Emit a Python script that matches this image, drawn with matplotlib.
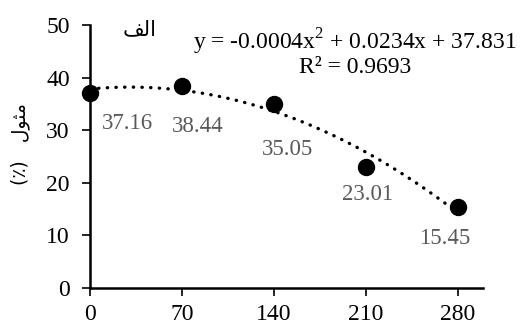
import numpy as np
import matplotlib
matplotlib.use("Agg")
from matplotlib import pyplot as plt

# data ------------------------------------------------
days = [0, 70, 140, 210, 280]
values = [37.16, 38.44, 35.05, 23.01, 15.45]
xticks = [0, 70, 140, 210, 280]
yticks = [0, 10, 20, 30, 40, 50]
equation = "y = -0.0004x$^{2}$ + 0.0234x + 37.831"
r2_text = "R² = 0.9693"
# Arabic script written in visual order with presentation forms
ylabel = "(\u066A)   \uFEDD\uFEEE\uFE9C\uFEE3"
panel = "\uFED2\uFEDF\uFE8D"
# label offsets in pixels (dx, dy) from each point
label_offsets = [(37, -31), (16, -41), (14, -46), (2, -28), (-13, -32)]

fam = ["Liberation Serif", "DejaVu Sans"]
plt.rcParams["font.family"] = fam
plt.rcParams["mathtext.fontset"] = "custom"
plt.rcParams["mathtext.rm"] = "Liberation Serif"

fig = plt.figure(figsize=(5.22, 3.24), dpi=100)
ax = fig.add_axes([0.1724, 0.111, 0.7526, 0.812])

# quadratic trendline fitted to the points
coef = np.polyfit(days, values, 2)
xf = np.linspace(days[0], days[-1], 200)
ax.plot(xf, np.polyval(coef, xf), color="black", lw=2.4, linestyle=(0, (0.1, 2.5)),
        dash_capstyle="round", zorder=2)
ax.plot(days, values, "o", color="black", ms=11.5, clip_on=False, zorder=3)

for x, y, (dx, dy) in zip(days, values, label_offsets):
    ax.annotate("%.2f" % y, (x, y), xytext=(dx * 0.72, dy * 0.72), textcoords="offset points",
                ha="center", va="center", fontsize=16.5, color="#595959")

ax.set_xlim(0, 299)
ax.set_ylim(0, 50)
ax.set_xticks(xticks)
ax.set_yticks(yticks)
ax.tick_params(labelsize=17, length=5.5, width=1.2, color="black")
ax.tick_params(axis="y", pad=9)
ax.tick_params(axis="x", pad=6)
for s in ["top", "right"]:
    ax.spines[s].set_visible(False)
for s in ["left", "bottom"]:
    ax.spines[s].set_linewidth(1.8)

ax.text(0.674, 0.935, equation, transform=ax.transAxes, ha="center", va="center", fontsize=17)
ax.text(0.674, 0.84, r2_text, transform=ax.transAxes, ha="center", va="center", fontsize=17)
ax.text(0.127, 0.985, panel, transform=ax.transAxes, ha="center", va="center", fontsize=15,
        family=["DejaVu Sans"])

fig.text(0.038, 0.555, ylabel, rotation=90, ha="center", va="center", fontsize=13.5,
         family=["DejaVu Sans"])

fig.savefig("out.png", dpi=100)
